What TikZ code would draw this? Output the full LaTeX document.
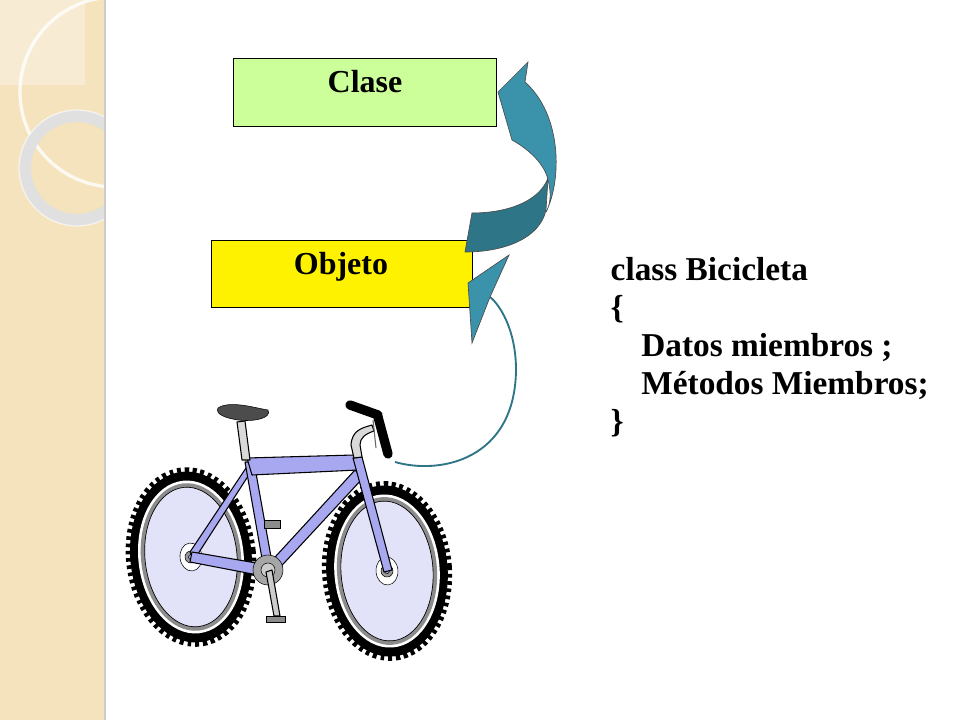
\documentclass[tikz,border=0pt]{standalone}
\usepackage{fontspec}
\setmainfont{Liberation Serif}
\begin{document}
\begin{tikzpicture}[x=0.75pt,y=-0.75pt,
  lbl/.style={font=\fontsize{24}{28}\selectfont\bfseries},
  box/.style={draw=black,line width=0.8pt},
  frame/.style={draw=black,line width=0.8pt,fill=bikeblue,line join=round},
  tire/.style={draw=black,line width=7pt},
  knob/.style={draw=black,line width=12pt,dash pattern=on 2.6pt off 2.6pt},
  arrowfill/.style={fill=teal1,draw=black!70,line width=0.5pt}]
\definecolor{bikeblue}{HTML}{A8A8F0}
\definecolor{wheelfill}{HTML}{E2E2F8}
\definecolor{teal1}{HTML}{3A93AA}
\definecolor{teal2}{HTML}{2E7587}
\definecolor{strip}{HTML}{F4E3BC}
\useasboundingbox (0,0) rectangle (960,720);
\fill[white] (0,0) rectangle (960,720);
% left strip
\fill[strip] (0,0) rectangle (105,720);
\begin{scope}
\clip (0,0) rectangle (105,720);
\fill[white,opacity=0.35] (0,0) rectangle (85,85);
\draw[white,opacity=0.8,line width=2.5pt] (115,92) circle (95);
\draw[black!12,line width=9pt] (77,168) circle (52);
\draw[white,opacity=0.6,line width=1pt] (77,168) circle (58);
\end{scope}
\draw[black!20,line width=1pt] (105,0) -- (105,720);
% boxes
\node[box,fill={rgb,255:red,204;green,255;blue,153},minimum width=197pt,minimum height=51pt,anchor=north west] (clase) at (233,58) {};
\node[lbl,anchor=base] (clasetxt) at (365,93) {Clase};
\node[box,fill=yellow,minimum width=196pt,minimum height=50pt,anchor=north west] (objeto) at (211,240) {};
\node[lbl,anchor=base] (objtxt) at (341,275) {Objeto};
% code
\node[anchor=north west,align=left,font=\fontsize{25}{28.5}\selectfont\bfseries] (code) at (606,253)
 {class Bicicleta\\\{\\\hspace*{23pt}Datos miembros ;\\\hspace*{23pt}Métodos Miembros;\\\}};
% big curved arrow
\coordinate (tip) at (528,62);
\fill[teal2,draw=black!70,line width=0.5pt] (465,252) .. controls (505,252) and (540,238) .. (546,210)
  -- (548,178) .. controls (540,200) and (510,213) .. (472,213) -- cycle;
\path[arrowfill] (546,212) .. controls (562,180) and (562,115) .. (525,82)
  -- (tip) -- (498,92) -- (512,140) .. controls (530,150) and (545,165) .. (548,180)
  .. controls (552,195) and (550,205) .. (546,212) -- cycle;
% thin arrow from bike
\coordinate (grip) at (395,462);
\draw[teal2,line width=1.4pt] (grip) .. controls (440,475) and (515,460) .. (516,370)
  .. controls (516,330) and (500,305) .. (490,297);
\path[arrowfill] (509,255) -- (468,283) -- (472,343) -- (490,297) -- cycle;
% bicycle wheels
\foreach \cx/\cy/\rot in {191/557/6,387/571/4}{
 \begin{scope}[shift={(\cx,\cy)},rotate=\rot]
  \fill[wheelfill] (0,0) ellipse [x radius=52, y radius=76];
  \draw[knob] (0,0) ellipse [x radius=57, y radius=82];
  \draw[tire] (0,0) ellipse [x radius=56, y radius=81];
  \draw[white,line width=2.5pt] (0,0) ellipse [x radius=51, y radius=75];
  \draw[black!45,line width=3pt] (0,0) ellipse [x radius=48, y radius=72];
  \draw[black,line width=0.5pt] (0,0) ellipse [x radius=46, y radius=70];
  \filldraw[fill=white,draw=black] (0,0) ellipse [x radius=11, y radius=14];
  \filldraw[fill=black!40,draw=black] (0,0) circle (6);
  \filldraw[fill=bikeblue,draw=black] (0,0) circle (2.5);
 \end{scope}}
% frame
\coordinate (rear) at (191,556);
\coordinate (bb) at (268,570);
\coordinate (st) at (248,460);
\coordinate (ht) at (356,458);
\coordinate (hb) at (361,478);
\coordinate (front) at (388,572);
\draw[frame] (190,552) -- (248,465) -- (252,470) -- (194,560) -- cycle;
\draw[frame] (192,552) -- (268,565) -- (268,577) -- (190,562) -- cycle;
\draw[frame] (264,570) -- (245,462) -- (254,462) -- (273,568) -- cycle;
\draw[frame] (265,568) -- (355,470) -- (363,478) -- (273,575) -- cycle;
\draw[frame] (247,458) -- (354,455) -- (358,470) -- (252,475) -- cycle;
\draw[frame] (353,458) -- (362,457) -- (392,570) -- (384,572) -- cycle;
% seat post and saddle
\draw[frame,fill=black!15] (242,460) -- (237,422) -- (245,421) -- (250,460) -- cycle;
\filldraw[fill=black!70,draw=black] (218,408) .. controls (230,400) and (255,408) .. (268,410)
  .. controls (272,418) and (255,422) .. (238,420) .. controls (225,418) and (215,414) .. (218,408) -- cycle;
% stem and bars
\draw[frame,fill=black!15] (354,458) -- (351,445) .. controls (352,430) and (362,428) .. (372,425) -- (374,431) .. controls (365,434) and (360,438) .. (360,445) -- (362,457) -- cycle;
\draw[black,line width=7pt,line cap=round] (350,405) -- (378,415);
\draw[black,line width=7pt,line cap=round] (378,417) -- (388,454);
\draw[black!60,line width=0.8pt] (373,420) -- (376,448);
% crank
\filldraw[fill=black!35,draw=black] (bb) circle (15);
\filldraw[fill=black!20,draw=black] (bb) circle (7);
\draw[frame,fill=black!20] (266,572) -- (274,616) -- (280,616) -- (272,570) -- cycle;
\filldraw[fill=black!45,draw=black] (266,616) rectangle (285,622);
\filldraw[fill=black!45,draw=black] (264,520) rectangle (280,528);
\end{tikzpicture}
\end{document}
